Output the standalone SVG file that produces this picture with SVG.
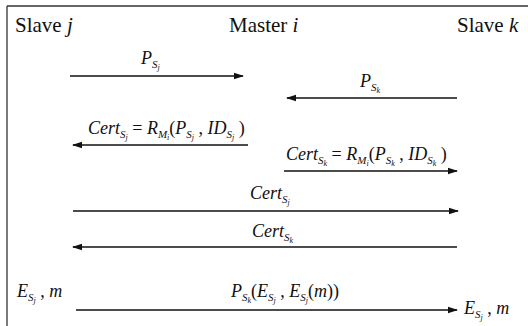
<svg xmlns="http://www.w3.org/2000/svg" width="528" height="326" viewBox="0 0 528 326">
<style>
.t{font-size:21px;fill:#111}
.m{font-size:18px;font-style:italic;fill:#111}
.s{font-size:11px}
.ss{font-size:8px}
.r{font-style:normal}
.ln{stroke:#111;stroke-width:1.3;fill:none}
</style>
<defs>
<marker id="ah" markerWidth="10" markerHeight="8" refX="9" refY="4" orient="auto" markerUnits="userSpaceOnUse">
<path d="M0,0.8 L10,4 L0,7.2 Z" fill="#111"/>
</marker>
</defs>
<rect width="528" height="326" fill="#fff"/>
<g id="frame">
<line x1="7" y1="6" x2="528" y2="6" stroke="#333" stroke-width="1.3"/>
<line x1="7" y1="6" x2="7" y2="326" stroke="#333" stroke-width="1.3"/>
</g>
<g font-family="Liberation Serif">
<g id="slave-j"><text class="t" x="15" y="32">Slave <tspan font-style="italic">j</tspan></text></g>
<g id="master-i"><text class="t" x="229" y="32">Master <tspan font-style="italic">i</tspan></text></g>
<g id="slave-k"><text class="t" x="457" y="32">Slave <tspan font-style="italic">k</tspan></text></g>
</g>
<g id="connectors">
<line class="ln" x1="70" y1="76" x2="243" y2="76" marker-end="url(#ah)"/>
<line class="ln" x1="457" y1="98" x2="287" y2="98" marker-end="url(#ah)"/>
<line class="ln" x1="248" y1="145" x2="73" y2="145" marker-end="url(#ah)"/>
<line class="ln" x1="284" y1="171" x2="457" y2="171" marker-end="url(#ah)"/>
<line class="ln" x1="73" y1="211" x2="458" y2="211" marker-end="url(#ah)"/>
<line class="ln" x1="457" y1="247" x2="73" y2="247" marker-end="url(#ah)"/>
<line class="ln" x1="76" y1="310" x2="457" y2="310" marker-end="url(#ah)"/>
</g>
<g id="labels" font-family="Liberation Serif">
<text class="m" x="141" y="64">P<tspan class="s" dy="4">S</tspan><tspan class="ss" dy="2">j</tspan></text>
<text class="m" x="360" y="87">P<tspan class="s" dy="4">S</tspan><tspan class="ss" dy="2">k</tspan></text>
<text class="m" x="88" y="134">Cert<tspan class="s" dy="4">S</tspan><tspan class="ss" dy="2">j</tspan><tspan class="r" dy="-6"> = </tspan>R<tspan class="s" dy="4">M</tspan><tspan class="ss" dy="2">i</tspan><tspan class="r" dy="-6">(</tspan>P<tspan class="s" dy="4">S</tspan><tspan class="ss" dy="2">j</tspan><tspan class="r" dy="-6"> , </tspan>ID<tspan class="s" dy="4">S</tspan><tspan class="ss" dy="2">j</tspan><tspan class="r" dy="-6"> )</tspan></text>
<text class="m" x="286" y="160">Cert<tspan class="s" dy="4">S</tspan><tspan class="ss" dy="2">k</tspan><tspan class="r" dy="-6"> = </tspan>R<tspan class="s" dy="4">M</tspan><tspan class="ss" dy="2">i</tspan><tspan class="r" dy="-6">(</tspan>P<tspan class="s" dy="4">S</tspan><tspan class="ss" dy="2">k</tspan><tspan class="r" dy="-6"> , </tspan>ID<tspan class="s" dy="4">S</tspan><tspan class="ss" dy="2">k</tspan><tspan class="r" dy="-6"> )</tspan></text>
<text class="m" x="250" y="199">Cert<tspan class="s" dy="4">S</tspan><tspan class="ss" dy="2">j</tspan></text>
<text class="m" x="252" y="237">Cert<tspan class="s" dy="4">S</tspan><tspan class="ss" dy="2">k</tspan></text>
<text class="m" x="17" y="297">E<tspan class="s" dy="4">S</tspan><tspan class="ss" dy="2">j</tspan><tspan class="r" dy="-6"> , </tspan>m</text>
<text class="m" x="231" y="297">P<tspan class="s" dy="4">S</tspan><tspan class="ss" dy="2">k</tspan><tspan class="r" dy="-6">(</tspan>E<tspan class="s" dy="4">S</tspan><tspan class="ss" dy="2">j</tspan><tspan class="r" dy="-6"> , </tspan>E<tspan class="s" dy="4">S</tspan><tspan class="ss" dy="2">j</tspan><tspan class="r" dy="-6">(</tspan>m<tspan class="r">))</tspan></text>
<text class="m" x="464" y="314">E<tspan class="s" dy="4">S</tspan><tspan class="ss" dy="2">j</tspan><tspan class="r" dy="-6"> , </tspan>m</text>
</g>
</svg>
